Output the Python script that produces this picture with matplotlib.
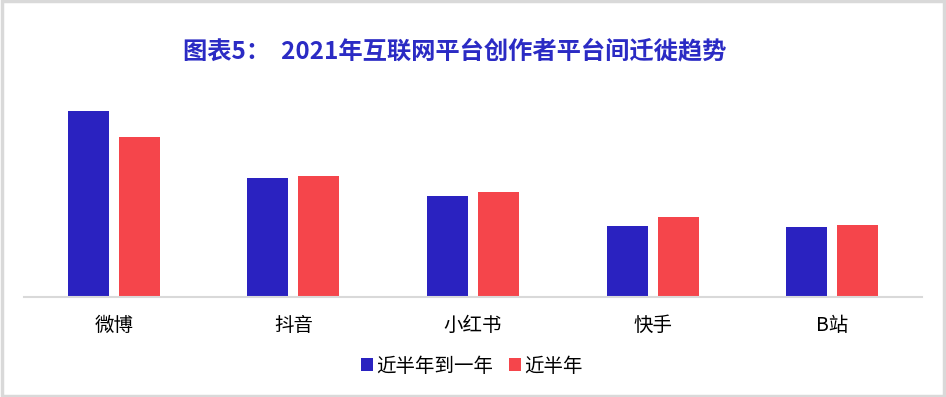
import matplotlib.pyplot as plt
import numpy as np
from matplotlib.patches import Rectangle

plt.rcParams['font.family'] = ['Noto Sans CJK SC', 'DejaVu Sans']

categories = ['微博', '抖音', '小红书', '快手', 'B站']
half_to_one_year = [185, 118, 100, 70, 69]   # 近半年到一年
half_year = [159, 120, 104, 79, 71]          # 近半年
series_names = ['近半年到一年', '近半年']

blue = '#2A22C0'
red = '#F5454B'

fig = plt.figure(figsize=(9.46, 3.97), dpi=100)
ax = fig.add_axes([24 / 946, 1 - 296.5 / 397, 898 / 946, 200 / 397])

x = np.arange(len(categories))
w = 0.228
off = 0.142
ax.bar(x - off, half_to_one_year, width=w, color=blue, label=series_names[0])
ax.bar(x + off, half_year, width=w, color=red, label=series_names[1])

ax.set_xlim(-0.5, len(categories) - 0.5)
ax.set_ylim(0, 199)
ax.set_xticks(x)
ax.set_xticklabels(categories, fontsize=14)
ax.tick_params(axis='x', length=0, pad=13)
ax.set_yticks([])
for s in ['top', 'right', 'left']:
    ax.spines[s].set_visible(False)
ax.spines['bottom'].set_color('#D9D9D9')
ax.spines['bottom'].set_linewidth(1.5)

fig.text(455 / 946, 1 - 51 / 397, '图表5：  2021年互联网平台创作者平台间迁徙趋势',
         ha='center', va='center', fontsize=17.5, fontweight='bold', color='#2B2BC4')

fig.legend(loc='center', bbox_to_anchor=(472 / 946, 1 - 366 / 397), ncol=2,
           frameon=False, fontsize=14, handlelength=0.6, handleheight=0.6,
           handletextpad=0.2, columnspacing=0.8)

# grey frame around the whole picture
fig.patches.append(Rectangle((0.002, 0.003), 0.996, 0.994, transform=fig.transFigure,
                             fill=False, edgecolor='#D9D9D9', linewidth=2.5))

fig.savefig('out.png', dpi=100)
